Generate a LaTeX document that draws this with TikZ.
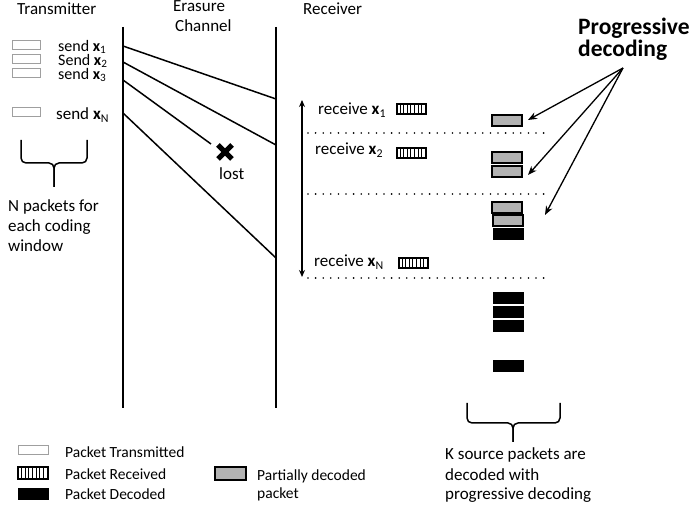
\documentclass[tikz,border=0pt]{standalone}
\usepackage{fontspec}
\setmainfont{Carlito}
\usetikzlibrary{arrows.meta}

\tikzset{
  lbl/.style={font=\fontsize{17}{20}\selectfont, inner sep=0, anchor=base west},
  sndlist/.style={font=\fontsize{16}{14}\selectfont, inner sep=0, anchor=north west, align=left},
  leg/.style={font=\fontsize{15.5}{18}\selectfont, inner sep=0, anchor=base west},
  big/.style={font=\fontsize{23.5}{27}\selectfont\bfseries, inner sep=0, anchor=base west},
  wire/.style={line width=1.5pt},
  txbox/.style={draw=gray!75, line width=0.8pt, fill=white, minimum width=28pt, minimum height=9pt, inner sep=0},
  rxbox/.style={draw, line width=2pt, fill=white, minimum width=29pt, minimum height=10pt, inner sep=0,
    path picture={\foreach \k in {1,...,7}{
      \draw[line width=1pt] ([xshift=\k*3.6pt]path picture bounding box.north west)
        -- ([xshift=\k*3.6pt]path picture bounding box.south west);}}},
  pdbox/.style={draw, line width=2pt, fill=gray!60, minimum width=30pt, minimum height=11pt, inner sep=0},
  decbox/.style={draw, line width=1pt, fill=black, minimum width=30pt, minimum height=11pt, inner sep=0},
  sep/.style={line width=1.8pt, line cap=round, dash pattern=on 0pt off 7.6pt},
  brace/.style={line width=1.5pt, rounded corners=5pt},
  pointer/.style={line width=1.3pt, -{Stealth[length=9pt,width=7pt]}}
}

\begin{document}
\begin{tikzpicture}[x=1pt,y=-1pt]
\useasboundingbox (0,0) rectangle (691,510);

% headings
\node[lbl] (hTx) at (17,15) {Transmitter};
\node[lbl] (hEr) at (173,12) {Erasure};
\node[lbl] (hCh) at (175,32) {Channel};
\node[lbl] (hRx) at (303,15) {Receiver};

% time lines of transmitter and receiver
\coordinate (txTop) at (123,27); \coordinate (txBot) at (123,408);
\coordinate (rxTop) at (276,27); \coordinate (rxBot) at (276,408);
\draw[wire] (txTop) -- (txBot);
\draw[wire] (rxTop) -- (rxBot);

% transmitted packets
\node[txbox] (s1) at (26,45) {};
\node[txbox] (s2) at (26,59) {};
\node[txbox] (s3) at (26,73) {};
\node[txbox] (sN) at (26,112) {};
\node[sndlist] (l123) at (58,40) {send \textbf{x}\textsubscript{1}\\Send \textbf{x}\textsubscript{2}\\send \textbf{x}\textsubscript{3}};
\node[lbl] (lN) at (56,120) {send \textbf{x}\textsubscript{N}};

% packets crossing the channel
\coordinate (a1) at (123,46);  \coordinate (b1) at (276,99);
\coordinate (a2) at (123,62);  \coordinate (b2) at (276,145);
\coordinate (a3) at (123,80);  \coordinate (b3) at (211,144);
\coordinate (a4) at (123,113); \coordinate (b4) at (276,258);
\draw[wire] (a1) -- (b1);
\draw[wire] (a2) -- (b2);
\draw[wire] (a3) -- (b3);
\draw[wire] (a4) -- (b4);

% erased packet
\coordinate (lossC) at (225,152);
\draw[line width=5pt] ([shift={(-7,-7)}]lossC) -- ([shift={(7,7)}]lossC);
\draw[line width=5pt] ([shift={(-7,7)}]lossC) -- ([shift={(7,-7)}]lossC);
\node[lbl] (lost) at (219,180) {lost};

% brace under transmitted packets
\coordinate (bl) at (21,140); \coordinate (br) at (87,140);
\coordinate (bm) at (54,163); \coordinate (bt) at (54,187);
\draw[brace] (bl) -- (21,163) -- (bm) -- (bt);
\draw[brace] (br) -- (87,163) -- (bm) -- (bt);
\node[lbl] (nA) at (8,212) {N packets for};
\node[lbl] (nB) at (8,232) {each coding};
\node[lbl] (nC) at (8,252) {window};

% coding window span at the receiver
\coordinate (wTop) at (302,100); \coordinate (wBot) at (302,277);
\draw[line width=1.5pt, {Stealth[length=7pt,width=6pt]}-{Stealth[length=7pt,width=6pt]}] (wTop) -- (wBot);

% received packets
\node[lbl] (r1) at (318,114.5) {receive \textbf{x}\textsubscript{1}};
\node[lbl] (r2) at (315,155) {receive \textbf{x}\textsubscript{2}};
\node[lbl] (rN) at (314,267) {receive \textbf{x}\textsubscript{N}};
\node[rxbox] (q1) at (411,109) {};
\node[rxbox] (q2) at (411,153) {};
\node[rxbox] (qN) at (413,263) {};

% slot separators
\coordinate (d1a) at (308,133); \coordinate (d1b) at (550,133);
\coordinate (d2a) at (308,194); \coordinate (d2b) at (550,194);
\coordinate (d3a) at (308,278); \coordinate (d3b) at (550,278);
\draw[sep] (d1a) -- (d1b);
\draw[sep] (d2a) -- (d2b);
\draw[sep] (d3a) -- (d3b);

% decoder state after each slot
\node[pdbox] (p11) at (507,121) {};
\node[pdbox] (p21) at (507,157.5) {};
\node[pdbox] (p22) at (507,172) {};
\node[pdbox] (p31) at (507,207.5) {};
\node[pdbox] (p32) at (508,221) {};
\node[decbox] (p33) at (508,234.5) {};

% decoded source packets
\node[decbox] (k1) at (508,298) {};
\node[decbox] (k2) at (508,312.5) {};
\node[decbox] (k3) at (508,326.5) {};
\node[decbox] (kK) at (508,366.5) {};

% brace under decoded packets
\coordinate (cl) at (467,403); \coordinate (cr) at (560,403);
\coordinate (cm) at (513,423); \coordinate (ct) at (513,442);
\draw[brace] (cl) -- (467,423) -- (cm) -- (ct);
\draw[brace] (cr) -- (560,423) -- (cm) -- (ct);
\node[lbl] (kA) at (445,460) {K source packets are};
\node[lbl] (kB) at (445,480) {decoded with};
\node[lbl] (kC) at (445,500) {progressive decoding};

% progressive decoding callout
\node[big] (pgA) at (578,35) {Progressive};
\node[big] (pgB) at (578,57) {decoding};
\coordinate (pgO) at (623,68);
\coordinate (pgT1) at (528,120);
\coordinate (pgT2) at (528,175);
\coordinate (pgT3) at (545,215);
\draw[pointer] (pgO) -- (pgT1);
\draw[pointer] (pgO) -- (pgT2);
\draw[pointer] (pgO) -- (pgT3);

% legend
\node[txbox, minimum width=30pt] (gT) at (33,449.5) {};
\node[rxbox, minimum width=30pt, minimum height=11pt] (gR) at (33,473) {};
\node[decbox] (gD) at (33,493.5) {};
\node[pdbox, minimum width=31pt, minimum height=12pt] (gP) at (230.5,473.5) {};
\node[leg] (tT) at (65,457) {Packet Transmitted};
\node[leg] (tR) at (65,479) {Packet Received};
\node[leg] (tD) at (65,500) {Packet Decoded};
\node[leg] (tP1) at (257,481) {Partially decoded};
\node[leg] (tP2) at (257,498) {packet};
\end{tikzpicture}
\end{document}
